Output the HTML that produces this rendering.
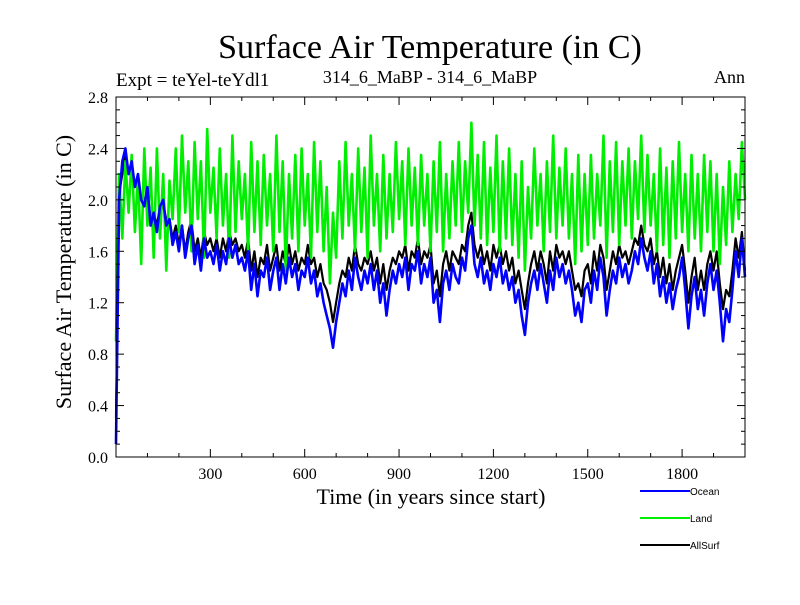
<!DOCTYPE html>
<html><head><meta charset="utf-8"><style>
body{margin:0;background:#fff;}
svg text{font-family:"Liberation Serif",serif;fill:#000;}
</style></head><body>
<svg id="chart" width="800" height="600" xmlns="http://www.w3.org/2000/svg">
<text x="430" y="58" font-size="34" text-anchor="middle">Surface Air Temperature (in C)</text>
<text x="116" y="86" font-size="19">Expt = teYel-teYdl1</text>
<text x="430" y="83" font-size="18" text-anchor="middle">314_6_MaBP - 314_6_MaBP</text>
<text x="745" y="83" font-size="18" text-anchor="end">Ann</text>
<text x="0" y="0" font-size="22" text-anchor="middle" transform="translate(71,272) rotate(-90)">Surface Air Temperature (in C)</text>
<text x="431" y="504" font-size="22" text-anchor="middle">Time (in years since start)</text>
<g id="series"></g>
<g id="axes"></g>
<g id="legend"></g>
</svg>
<script>
const years=[];for(let i=0;i<=200;i++)years.push(i*10);
const ocean=[0.1,2.0,2.3,2.4,2.2,2.3,2.1,2.2,2.0,1.95,2.1,1.8,1.9,1.75,1.95,2.0,1.8,1.85,1.65,1.75,1.6,1.8,1.55,1.7,1.8,1.5,1.65,1.45,1.7,1.55,1.6,1.5,1.65,1.45,1.6,1.5,1.7,1.55,1.65,1.5,1.55,1.45,1.6,1.3,1.5,1.25,1.45,1.4,1.55,1.3,1.45,1.55,1.3,1.5,1.35,1.55,1.4,1.5,1.3,1.45,1.4,1.55,1.35,1.45,1.25,1.35,1.2,1.1,1.0,0.85,1.05,1.2,1.35,1.25,1.45,1.3,1.55,1.4,1.3,1.45,1.35,1.5,1.3,1.45,1.2,1.35,1.1,1.3,1.45,1.35,1.5,1.4,1.55,1.3,1.5,1.45,1.6,1.35,1.5,1.4,1.55,1.2,1.3,1.05,1.35,1.45,1.3,1.5,1.4,1.35,1.55,1.45,1.7,1.8,1.5,1.4,1.55,1.35,1.45,1.3,1.5,1.4,1.55,1.35,1.45,1.3,1.4,1.2,1.3,1.1,0.95,1.2,1.35,1.45,1.3,1.5,1.35,1.2,1.45,1.3,1.55,1.4,1.5,1.35,1.45,1.3,1.1,1.2,1.05,1.3,1.35,1.2,1.45,1.3,1.55,1.4,1.1,1.3,1.45,1.35,1.55,1.4,1.5,1.35,1.45,1.6,1.5,1.7,1.55,1.45,1.6,1.35,1.5,1.25,1.4,1.2,1.35,1.15,1.3,1.4,1.55,1.3,1.0,1.25,1.4,1.15,1.3,1.1,1.35,1.5,1.3,1.45,1.2,0.9,1.15,1.05,1.3,1.6,1.4,1.7,1.4];
const land=[0.9,2.2,1.7,2.3,1.9,2.35,1.75,2.2,1.5,2.4,1.8,2.25,1.55,2.4,1.7,2.2,1.45,2.15,1.85,2.4,1.75,2.5,1.9,2.3,1.6,2.45,1.85,2.3,1.55,2.55,1.9,2.25,1.7,2.4,1.8,2.2,1.55,2.5,1.75,2.3,1.85,2.2,1.6,2.45,1.75,2.3,1.65,2.35,1.8,2.2,1.6,2.5,1.75,2.3,1.45,2.2,1.7,2.35,1.6,2.4,1.8,2.2,1.55,2.45,1.75,2.3,1.6,2.1,1.35,1.9,1.55,2.3,1.7,2.45,1.8,2.2,1.6,2.4,1.75,2.25,1.55,2.5,1.8,2.2,1.6,2.35,1.7,2.2,1.75,2.45,1.85,2.3,1.65,2.4,1.8,2.25,1.65,2.35,1.8,2.2,1.6,2.3,1.75,2.45,1.6,2.2,1.7,2.3,1.8,2.45,1.75,2.3,1.9,2.6,1.8,2.35,1.7,2.45,1.65,2.25,1.75,2.5,1.6,2.3,1.7,2.4,1.65,2.2,1.55,2.3,1.45,2.1,1.7,2.4,1.8,2.2,1.6,2.3,1.75,2.5,1.7,2.25,1.8,2.4,1.7,2.2,1.5,2.35,1.6,2.2,1.65,2.35,1.7,2.2,1.8,2.5,1.55,2.3,1.75,2.45,1.65,2.3,1.8,2.4,1.7,2.3,1.85,2.5,1.75,2.35,1.8,2.2,1.6,2.4,1.65,2.25,1.55,2.3,1.7,2.45,1.75,2.2,1.6,2.35,1.7,2.2,1.6,2.35,1.75,2.3,1.6,2.2,1.5,2.1,1.65,2.3,1.75,2.2,1.85,2.45,2.0];
const allsurf=[0.3,2.05,2.2,2.35,2.2,2.25,2.1,2.15,2.0,2.0,2.05,1.85,1.9,1.8,1.95,1.95,1.85,1.85,1.7,1.8,1.65,1.8,1.6,1.75,1.85,1.6,1.7,1.55,1.75,1.65,1.7,1.6,1.7,1.55,1.7,1.6,1.75,1.65,1.7,1.6,1.65,1.55,1.7,1.45,1.6,1.4,1.55,1.5,1.65,1.45,1.55,1.65,1.45,1.6,1.5,1.65,1.5,1.6,1.45,1.55,1.5,1.65,1.5,1.55,1.4,1.5,1.35,1.3,1.2,1.05,1.2,1.35,1.45,1.4,1.55,1.45,1.65,1.5,1.45,1.55,1.5,1.6,1.45,1.55,1.35,1.5,1.3,1.45,1.55,1.5,1.6,1.55,1.65,1.45,1.6,1.55,1.7,1.5,1.6,1.55,1.65,1.35,1.45,1.25,1.5,1.6,1.45,1.6,1.55,1.5,1.65,1.6,1.8,1.9,1.65,1.55,1.65,1.5,1.6,1.45,1.65,1.55,1.65,1.5,1.6,1.45,1.55,1.35,1.45,1.3,1.15,1.35,1.5,1.6,1.45,1.6,1.5,1.35,1.6,1.45,1.65,1.55,1.6,1.5,1.6,1.45,1.3,1.35,1.25,1.45,1.5,1.35,1.6,1.45,1.65,1.55,1.3,1.45,1.6,1.5,1.65,1.55,1.6,1.5,1.6,1.7,1.65,1.8,1.65,1.6,1.7,1.5,1.6,1.4,1.55,1.35,1.5,1.3,1.45,1.55,1.65,1.45,1.2,1.4,1.55,1.3,1.45,1.3,1.5,1.6,1.45,1.6,1.35,1.15,1.3,1.25,1.45,1.7,1.55,1.75,1.45];
const xTicks=[300,600,900,1200,1500,1800];
const yTicks=[0.0,0.4,0.8,1.2,1.6,2.0,2.4,2.8];
const L=116,R=745,T=97,B=457,XMAX=2000,YMAX=2.8;
const sx=v=>L+(v/XMAX)*(R-L);
const sy=v=>B-(v/YMAX)*(B-T);
const NS='http://www.w3.org/2000/svg';
function mk(tag,attrs,parent){const e=document.createElementNS(NS,tag);for(const k in attrs)e.setAttribute(k,attrs[k]);parent.appendChild(e);return e;}
const sg=document.getElementById('series');
function line(vals,color,name,w){
  const d=vals.map((v,i)=>(i?'L':'M')+sx(years[i]).toFixed(1)+','+sy(v).toFixed(1)).join('');
  const p=mk('path',{d:d,fill:'none',stroke:color,'stroke-width':w,'stroke-linejoin':'round'},sg);
  
  
}
line(allsurf,'#000','allsurf-line',2.2);
line(land,'#00ee00','land-line',2.6);
line(ocean,'#0000ff','ocean-line',2.6);
const ag=document.getElementById('axes');
const fr=mk('rect',{x:L,y:T,width:R-L,height:B-T,fill:'none',stroke:'#000','stroke-width':1},ag);


for(let v=100;v<XMAX;v+=100){const maj=xTicks.includes(v);const x=sx(v),len=maj?8:4;
 mk('line',{x1:x,y1:B,x2:x,y2:B-len,stroke:'#000'},ag);mk('line',{x1:x,y1:T,x2:x,y2:T+len,stroke:'#000'},ag);}
xTicks.forEach(v=>{const t=mk('text',{x:sx(v),y:B+22,'font-size':16,'text-anchor':'middle'},ag);t.textContent=v;
 
 });
for(let k=1;k<28;k++){const v=k/10;const y=sy(v);const maj=k%4===0;const len=maj?8:4;
 mk('line',{x1:L,y1:y,x2:L+len,y2:y,stroke:'#000'},ag);mk('line',{x1:R,y1:y,x2:R-len,y2:y,stroke:'#000'},ag);}
yTicks.forEach(v=>{const t=mk('text',{x:L-8,y:sy(v)+6,'font-size':16,'text-anchor':'end'},ag);t.textContent=v.toFixed(1);
 
 });
const lg=document.getElementById('legend');
[['Ocean','#0000ff',491],['Land','#00ee00',518],['AllSurf','#000',545]].forEach(([n,c,y])=>{
 const l=mk('line',{x1:640,y1:y,x2:690,y2:y,stroke:c,'stroke-width':2},lg);
 
 
 const t=mk('text',{x:690,y:y+4,'font-size':10},lg);t.style.fontFamily='"Liberation Sans",sans-serif';t.textContent=n;
 
 
});
</script>
</body></html>
